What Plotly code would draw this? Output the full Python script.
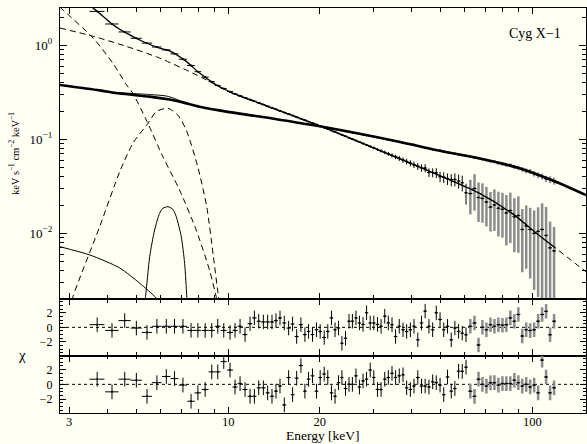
import math
import plotly.graph_objects as go

# ---------------- data ----------------
# shared energy grid of the spectral bins (keV) and bin half-widths
energy = [3.71, 4.15, 4.57, 4.99, 5.41, 5.83, 6.26, 6.66, 7.10, 7.55,
          7.95, 8.40, 8.83, 9.24, 9.67, 10.14, 10.53, 10.94, 11.36, 11.80,
          12.19, 12.60, 13.05, 13.48, 13.93, 14.36, 14.80, 15.29, 15.80, 16.28,
          16.79, 17.34, 17.87, 18.37, 18.93, 19.51, 20.06, 20.68,
          21.25, 21.85, 22.45, 23.05, 23.65, 24.30, 24.95, 25.60, 26.30, 27.00,
          27.75, 28.50, 29.30, 30.10, 30.95, 31.80, 32.70, 33.60, 34.55, 35.50,
          36.50, 37.55, 38.60, 39.70, 40.80, 42.00, 43.20, 44.40, 45.70, 47.00,
          48.30, 49.70, 51.10, 52.60, 54.10, 55.60, 57.20, 58.80, 60.50,
          62.5, 64.5, 66.5, 68.5, 70.6, 72.8, 75.0, 77.3, 79.7, 82.1,
          84.6, 87.2, 89.9, 92.6, 95.4, 98.3, 101.3, 104.4, 107.6, 110.9,
          114.3, 117.8]
energy_hw = [0.21, 0.21, 0.21, 0.21, 0.21, 0.21, 0.2, 0.2, 0.22, 0.22,
             0.2, 0.22, 0.21, 0.2, 0.22, 0.23, 0.2, 0.2, 0.21, 0.22,
             0.2, 0.2, 0.22, 0.21, 0.22, 0.21, 0.22, 0.24, 0.25, 0.24,
             0.25, 0.27, 0.26, 0.25, 0.28, 0.29, 0.27, 0.3,
             0.28, 0.3, 0.3, 0.3, 0.3, 0.32, 0.32, 0.32, 0.35, 0.35,
             0.37, 0.37, 0.4, 0.4, 0.42, 0.42, 0.45, 0.45, 0.47, 0.47,
             0.5, 0.52, 0.52, 0.55, 0.55, 0.6, 0.6, 0.6, 0.65, 0.65,
             0.65, 0.7, 0.7, 0.75, 0.75, 0.75, 0.8, 0.8, 0.85,
             1.0, 1.0, 1.0, 1.0, 1.05, 1.1, 1.1, 1.15, 1.2, 1.2,
             1.25, 1.3, 1.35, 1.35, 1.4, 1.45, 1.5, 1.55, 1.6, 1.65,
             1.7, 1.75]
N_PCA = 77          # first 77 bins: black; remaining bins: grey (high-energy instrument)
N_HARD_START = 38   # hard-state data shown from this bin on

# residuals (chi) of the two lower panels
chi_top = [0.37, -0.42, 0.93, -0.1, -0.7, 0.14, 0.14, 0.14, 0.14, -0.42,
           -0.42, -0.42, -0.42, 0.14, -0.42, -0.7, -0.42, 0.14, -1.0, 0.5,
           1.3, 0.84, 0.74, 0.74, 0.74, 0.93, 1.3, 0.6, -0.1, 0.46,
           -1.26, 0.37, -1.0, -0.56, -1.0, -0.33, -0.56, -1.4,
           -0.56, 1.3, -0.33, -0.1, -2.2, -1.5, 0.84, 0.84, 1.3, 0.6,
           0.4, 2.0, 0.6, 0.6, 0.4, 0.14, 1.53, 0.6, 0.37, -1.26,
           0.14, -0.33, -0.56, -0.33, 0.14, -1.72, 0.6, 2.23, 0.14, -0.33,
           2.0, 1.07, -0.33, 0.14, -1.72, -0.1, -0.56, -0.8, -1.02,
           0.14, 0.6, -2.42, 0.0, -0.33, 0.37, 0.14, 0.37, 0.3, 0.37,
           1.3, 0.84, 1.77, -1.2, -0.33, -0.45, -0.33, 0.84, 1.77, 2.2,
           -1.02, 0.84]
chi_bottom = [0.7, -1.02, 0.7, 0.56, -1.63, 0.23, 1.07, 0.79, -0.1, -2.3,
              -1.16, -0.7, 1.7, 1.7, 3.1, 1.95, -0.37, 0.1, -0.7, -1.63,
              -1.63, -0.47, -0.47, -1.16, -1.63, -0.93, -0.23, -2.8, 0.93, -1.4,
              0.84, 2.56, -0.93, 0.7, 1.16, -0.93, 0.93, 1.4,
              0.93, -1.16, -1.63, 0.23, 0.93, -0.56, 0.0, 0.0, 1.16, -0.37,
              0.47, 0.7, 1.95, 0.93, -0.7, -0.7, 0.7, 0.93, 1.5, 0.93,
              1.16, 1.3, -0.47, -0.7, -0.23, 0.93, -0.23, -0.23, -0.37, 0.35,
              0.23, -0.1, -1.4, 1.0, -0.93, -0.56, 1.8, 1.77, 2.33,
              -0.93, -1.63, 0.7, 0.0, -0.23, 0.2, 0.23, -0.1, 0.1, 0.1,
              0.1, 0.56, 0.23, -0.23, 0.0, -0.35, -0.1, -1.16, 3.3, 1.0,
              -1.16, -0.47]

# soft-state spectrum (keV s^-1 cm^-2 keV^-1) and relative errors
soft_flux = [2.30, 1.69, 1.39, 1.19, 1.057, 0.961, 0.895, 0.813, 0.712, 0.610,
             0.525, 0.460, 0.411, 0.374, 0.347, 0.322, 0.3045, 0.2905, 0.2775, 0.265,
             0.2546, 0.2447, 0.2345, 0.2253, 0.2165, 0.2087, 0.201, 0.1932, 0.1857, 0.179,
             0.1723, 0.1657, 0.1598, 0.1544, 0.1488, 0.1435, 0.1387, 0.1335,
             0.1288, 0.1241, 0.1198, 0.1156, 0.1117, 0.1078, 0.1040, 0.1005, 0.0970, 0.0937,
             0.0903, 0.0872, 0.0840, 0.0811, 0.0781, 0.0754, 0.0726, 0.0700, 0.0675, 0.0651,
             0.0627, 0.0602, 0.0580, 0.0558, 0.0537, 0.0517, 0.0497, 0.0495, 0.0445, 0.0443,
             0.0440, 0.0400, 0.0395, 0.0380, 0.0372, 0.0375, 0.0360, 0.0345, 0.0270,
             0.0265, 0.0300, 0.0240, 0.0235, 0.0215, 0.0190, 0.0200, 0.0185, 0.0180, 0.0165,
             0.0175, 0.0150, 0.0155, 0.0110, 0.0120, 0.0110, 0.0100, 0.0105, 0.0110, 0.0095,
             0.0070, 0.0065]
soft_relerr = [0.006, 0.006, 0.006, 0.006, 0.006, 0.006, 0.006, 0.007, 0.007, 0.007,
               0.007, 0.007, 0.008, 0.008, 0.008, 0.008, 0.008, 0.009, 0.009, 0.009,
               0.009, 0.01, 0.01, 0.01, 0.01, 0.011, 0.011, 0.011, 0.012, 0.012,
               0.012, 0.013, 0.013, 0.014, 0.014, 0.015, 0.015, 0.016,
               0.012, 0.013, 0.014, 0.015, 0.016, 0.017, 0.018, 0.02, 0.022, 0.024,
               0.026, 0.028, 0.03, 0.033, 0.036, 0.04, 0.043, 0.047, 0.05, 0.055,
               0.06, 0.065, 0.07, 0.075, 0.08, 0.085, 0.09, 0.1, 0.105, 0.11,
               0.12, 0.125, 0.13, 0.14, 0.15, 0.16, 0.17, 0.19, 0.25,
               0.4, 0.42, 0.45, 0.45, 0.45, 0.45, 0.47, 0.5, 0.5, 0.55,
               0.55, 0.58, 0.6, 0.65, 0.65, 0.7, 0.75, 0.8, 0.9, 1.0,
               0.9, 0.8]

# hard-state spectrum, bins from 21 keV on
hard_flux = [0.1325, 0.1302, 0.1280, 0.1259, 0.1239, 0.1218, 0.1198, 0.1179, 0.1159, 0.1140,
             0.1120, 0.1102, 0.1083, 0.1064, 0.1046, 0.1028, 0.1010, 0.0993, 0.0976, 0.0959,
             0.0943, 0.0922, 0.0903, 0.0885, 0.0880, 0.0850, 0.0832, 0.0816, 0.0799, 0.0782,
             0.0767, 0.0762, 0.0741, 0.0728, 0.0715, 0.0703, 0.0690, 0.0678, 0.0666,
             0.0653, 0.0640, 0.0628, 0.0614, 0.0600, 0.0586, 0.0580, 0.0559, 0.0546, 0.0533,
             0.0530, 0.0509, 0.0497, 0.0480, 0.0463, 0.0455, 0.0431, 0.0416, 0.0402, 0.0380,
             0.0374, 0.0361]
hard_relerr = [0.004, 0.004, 0.004, 0.004, 0.005, 0.005, 0.005, 0.005, 0.006, 0.006,
               0.006, 0.007, 0.007, 0.007, 0.008, 0.008, 0.009, 0.009, 0.01, 0.01,
               0.011, 0.011, 0.012, 0.012, 0.013, 0.013, 0.014, 0.015, 0.016, 0.017,
               0.018, 0.019, 0.02, 0.021, 0.022, 0.023, 0.024, 0.026, 0.028,
               0.03, 0.03, 0.032, 0.034, 0.035, 0.037, 0.04, 0.042, 0.045, 0.047,
               0.05, 0.052, 0.055, 0.058, 0.06, 0.063, 0.066, 0.07, 0.074, 0.078,
               0.082, 0.086]

# model curves
soft_model_E = [3.25, 3.60, 4.18, 4.63, 5.24, 5.95, 6.42, 7.28, 8.05, 9.13,
                10.35, 12.66, 20.4, 36.4, 51.9, 66.6, 85.5, 104.8, 119.1]
soft_model_F = [2.95, 2.49, 1.66, 1.35, 1.10, 0.936, 0.876, 0.676, 0.507, 0.381,
                0.311, 0.243, 0.136, 0.0628, 0.0387, 0.0269, 0.0164, 0.00962, 0.00698]
soft_pl_E = [2.80, 3.60, 4.63, 5.95, 7.65, 8.25, 9.13, 10.35, 12.66, 20.4,
             36.4, 51.9, 66.6, 85.5, 104.8, 119.1, 150.0]
soft_pl_F = [1.53, 1.25, 0.976, 0.733, 0.507, 0.449, 0.378, 0.308, 0.241, 0.135,
             0.0625, 0.0386, 0.0268, 0.01635, 0.0096, 0.00697, 0.0039]
disk_E = [2.80, 2.87, 3.60, 4.18, 4.63, 4.86, 5.40, 6.10, 6.92, 7.85, 8.68, 9.13, 9.36]
disk_F = [2.55, 2.37, 1.196, 0.644, 0.381, 0.308, 0.157, 0.0653, 0.0289, 0.01084,
          0.00407, 0.00212, 0.00153]
hump_E = [3.02, 3.09, 3.78, 4.40, 4.86, 5.45, 5.80, 6.34, 6.83, 7.28, 7.94, 8.50,
          8.94, 9.29, 9.43]
hump_F = [0.00153, 0.00212, 0.01175, 0.0452, 0.0907, 0.148, 0.197, 0.214, 0.181,
          0.1256, 0.0511, 0.0192, 0.00564, 0.00212, 0.00153]
iron_E = [5.27, 5.35, 5.52, 5.73, 5.95, 6.10, 6.34, 6.58, 6.75, 7.01, 7.19, 7.31, 7.35]
iron_F = [0.00153, 0.00212, 0.00564, 0.01084, 0.01632, 0.01845, 0.0192, 0.0180,
          0.01502, 0.0092, 0.0048, 0.00212, 0.00153]
bb_E = [2.80, 3.51, 4.40, 5.12, 5.80, 6.18]
bb_F = [0.0072, 0.00588, 0.00428, 0.00294, 0.00205, 0.00153]
hard_model_E = [2.80, 3.78, 4.40, 5.52, 6.42, 7.05, 8.05, 10.09, 12.66, 20.4,
                36.4, 48.2, 66.6, 90.1, 115.6, 150.0]
hard_model_F = [0.379, 0.332, 0.307, 0.285, 0.265, 0.249, 0.222, 0.195, 0.175, 0.136,
                0.0943, 0.0769, 0.0628, 0.0496, 0.0369, 0.0255]
hard_fe_E = [4.08, 4.74, 5.52, 6.27, 6.71, 7.13]
hard_fe_F = [0.319, 0.309, 0.300, 0.289, 0.270, 0.247]

x_ticks = [3, 10, 20, 100]
x_ticktext = ["3", "10", "20", "100"]
x_minor = [4, 5, 6, 7, 8, 9, 30, 40, 50, 60, 70, 80, 90]
y_ticks = [0.01, 0.1, 1]
y_ticktext = ["10<sup>−2</sup>", "10<sup>−1</sup>", "10<sup>0</sup>"]
y_minor = [0.002, 0.003, 0.004, 0.005, 0.006, 0.007, 0.008, 0.009,
           0.02, 0.03, 0.04, 0.05, 0.06, 0.07, 0.08, 0.09,
           0.2, 0.3, 0.4, 0.5, 0.6, 0.7, 0.8, 0.9, 2]
r_ticks = [-2, 0, 2]
r_ticktext = ["−2", "0", "2"]
r_minor = [-3.5, -3, -2.5, -1.5, -1, -0.5, 0.5, 1, 1.5, 2.5, 3, 3.5]

# ---------------- figure ----------------
BG = "#fffff4"
FONT = "Liberation Serif"
GREY = "#8c8c8c"

fig = go.Figure()


def curve(E, F, dash="solid", width=1.0, name=""):
    fig.add_trace(go.Scatter(
        x=E, y=F, mode="lines", name=name, xaxis="x", yaxis="y",
        line=dict(color="black", width=width, dash=dash, shape="spline", smoothing=0.7),
        hoverinfo="skip", showlegend=False))


DASH = "6px,4px"
curve(disk_E, disk_F, DASH, 1.0, "disk")
curve(hump_E, hump_F, DASH, 1.0, "hump")
curve(soft_pl_E, soft_pl_F, DASH, 1.0, "powerlaw")
curve(iron_E, iron_F, "solid", 1.0, "iron line")
curve(bb_E, bb_F, "solid", 1.0, "bb")


def data_trace(E, hw, F, rel, color, thick, axis_y="y"):
    err = [f * r for f, r in zip(F, rel)]
    err_lo = [min(e, f * 0.999) for e, f in zip(err, F)]
    fig.add_trace(go.Scatter(
        x=E, y=F, mode="markers", xaxis="x", yaxis=axis_y,
        marker=dict(size=2, color="black"),
        error_x=dict(type="data", array=hw, symmetric=True, thickness=1, width=0, color="black"),
        error_y=dict(type="data", array=err, arrayminus=err_lo, symmetric=False,
                     thickness=thick, width=0, color=color),
        hoverinfo="skip", showlegend=False))


# soft-state data
data_trace(energy[:N_PCA], energy_hw[:N_PCA], soft_flux[:N_PCA], soft_relerr[:N_PCA], "black", 1)
data_trace(energy[N_PCA:], energy_hw[N_PCA:], soft_flux[N_PCA:], soft_relerr[N_PCA:], GREY, 2.5)
# hard-state data
nh = N_PCA - N_HARD_START
data_trace(energy[N_HARD_START:N_PCA], energy_hw[N_HARD_START:N_PCA], hard_flux[:nh], hard_relerr[:nh], "black", 1)
data_trace(energy[N_PCA:], energy_hw[N_PCA:], hard_flux[nh:], hard_relerr[nh:], GREY, 2)

# models
curve(soft_model_E, soft_model_F, "solid", 1.3, "soft model")
curve(hard_fe_E, hard_fe_F, "solid", 1.0, "hard model + line")
curve(hard_model_E, hard_model_F, "solid", 2.6, "hard model")


# residual panels
def resid(chi, xa, ya):
    for sl, col, th in ((slice(0, N_PCA), "black", 1), (slice(N_PCA, None), GREY, 2.5)):
        fig.add_trace(go.Scatter(
            x=energy[sl], y=chi[sl], mode="markers", xaxis=xa, yaxis=ya,
            marker=dict(size=2, color="black"),
            error_x=dict(type="data", array=energy_hw[sl], thickness=1, width=0, color="black"),
            error_y=dict(type="constant", value=1, thickness=th, width=0, color=col),
            hoverinfo="skip", showlegend=False))


resid(chi_top, "x2", "y2")
resid(chi_bottom, "x3", "y3")

for ya, xa in (("y2", "x2"), ("y3", "x3")):
    fig.add_shape(type="line", xref=f"{xa} domain", x0=0, x1=1, yref=ya, y0=0, y1=0,
                  line=dict(color="black", width=1, dash="dot"), layer="below")

xr = [math.log10(2.8), math.log10(150)]
tickfont = dict(family=FONT, size=12.5, color="black")
common_x = dict(type="log", range=xr, tickvals=x_ticks, ticktext=x_ticktext,
                ticks="inside", ticklen=6, tickwidth=1, tickcolor="black",
                showline=True, linecolor="black", linewidth=1.4, mirror="ticks",
                showgrid=False, zeroline=False, tickfont=tickfont, ticklabelstandoff=-3,
                minor=dict(tickvals=x_minor, ticks="inside", ticklen=3.5,
                           tickcolor="black", tickwidth=1, showgrid=False))
common_r = dict(range=[-3.9, 3.9], tickvals=r_ticks, ticktext=r_ticktext,
                ticks="inside", ticklen=6, tickwidth=1, tickcolor="black",
                showline=True, linecolor="black", linewidth=1.4, mirror="ticks",
                showgrid=False, zeroline=False, ticklabelstandoff=4,
                tickfont=dict(family=FONT, size=12, color="black"),
                minor=dict(tickvals=r_minor, ticks="inside", ticklen=3,
                           tickcolor="black", tickwidth=1, showgrid=False))

D1, D2 = 0.1415, 0.2815
fig.update_layout(
    width=587, height=444,
    margin=dict(l=60, r=1, t=8, b=31),
    paper_bgcolor=BG, plot_bgcolor=BG,
    font=dict(family=FONT, color="black"),
    showlegend=False,
    xaxis=dict(common_x, anchor="y", showticklabels=False),
    xaxis2=dict(common_x, anchor="y2", matches="x", showticklabels=False),
    xaxis3=dict(common_x, anchor="y3", matches="x", showticklabels=True),
    yaxis=dict(type="log", domain=[D2, 1], anchor="x",
               range=[math.log10(0.002), math.log10(2.5)],
               tickvals=y_ticks, ticktext=y_ticktext,
               ticks="inside", ticklen=7, tickwidth=1, tickcolor="black",
               showline=True, linecolor="black", linewidth=1.4, mirror="ticks",
               showgrid=False, zeroline=False, ticklabelstandoff=4,
               tickfont=dict(family=FONT, size=13, color="black"),
               minor=dict(tickvals=y_minor, ticks="inside", ticklen=4,
                          tickcolor="black", tickwidth=1, showgrid=False)),
    yaxis2=dict(common_r, domain=[D1, D2], anchor="x2"),
    yaxis3=dict(common_r, domain=[0, D1], anchor="x3"),
    annotations=[
        dict(text="Energy [keV]", xref="paper", yref="paper", x=0.5, y=-0.056,
             xanchor="center", yanchor="middle", showarrow=False,
             font=dict(family=FONT, size=13.5, color="black")),
        dict(text="keV s<sup>−1</sup> cm<sup>−2</sup> keV<sup>−1</sup>", xref="paper", yref="paper",
             x=-0.087, y=0.64, xanchor="center", yanchor="middle", textangle=-90,
             showarrow=False, font=dict(family=FONT, size=10.5, color="black")),
        dict(text="χ", xref="paper", yref="paper", x=-0.072, y=0.143,
             xanchor="center", yanchor="middle", showarrow=False,
             font=dict(family=FONT, size=15, color="black")),
        dict(text="Cyg X−1", xref="paper", yref="paper", x=0.957, y=0.938,
             xanchor="right", yanchor="middle", showarrow=False,
             font=dict(family=FONT, size=14, color="black")),
    ],
)

fig.write_html("out.html")
